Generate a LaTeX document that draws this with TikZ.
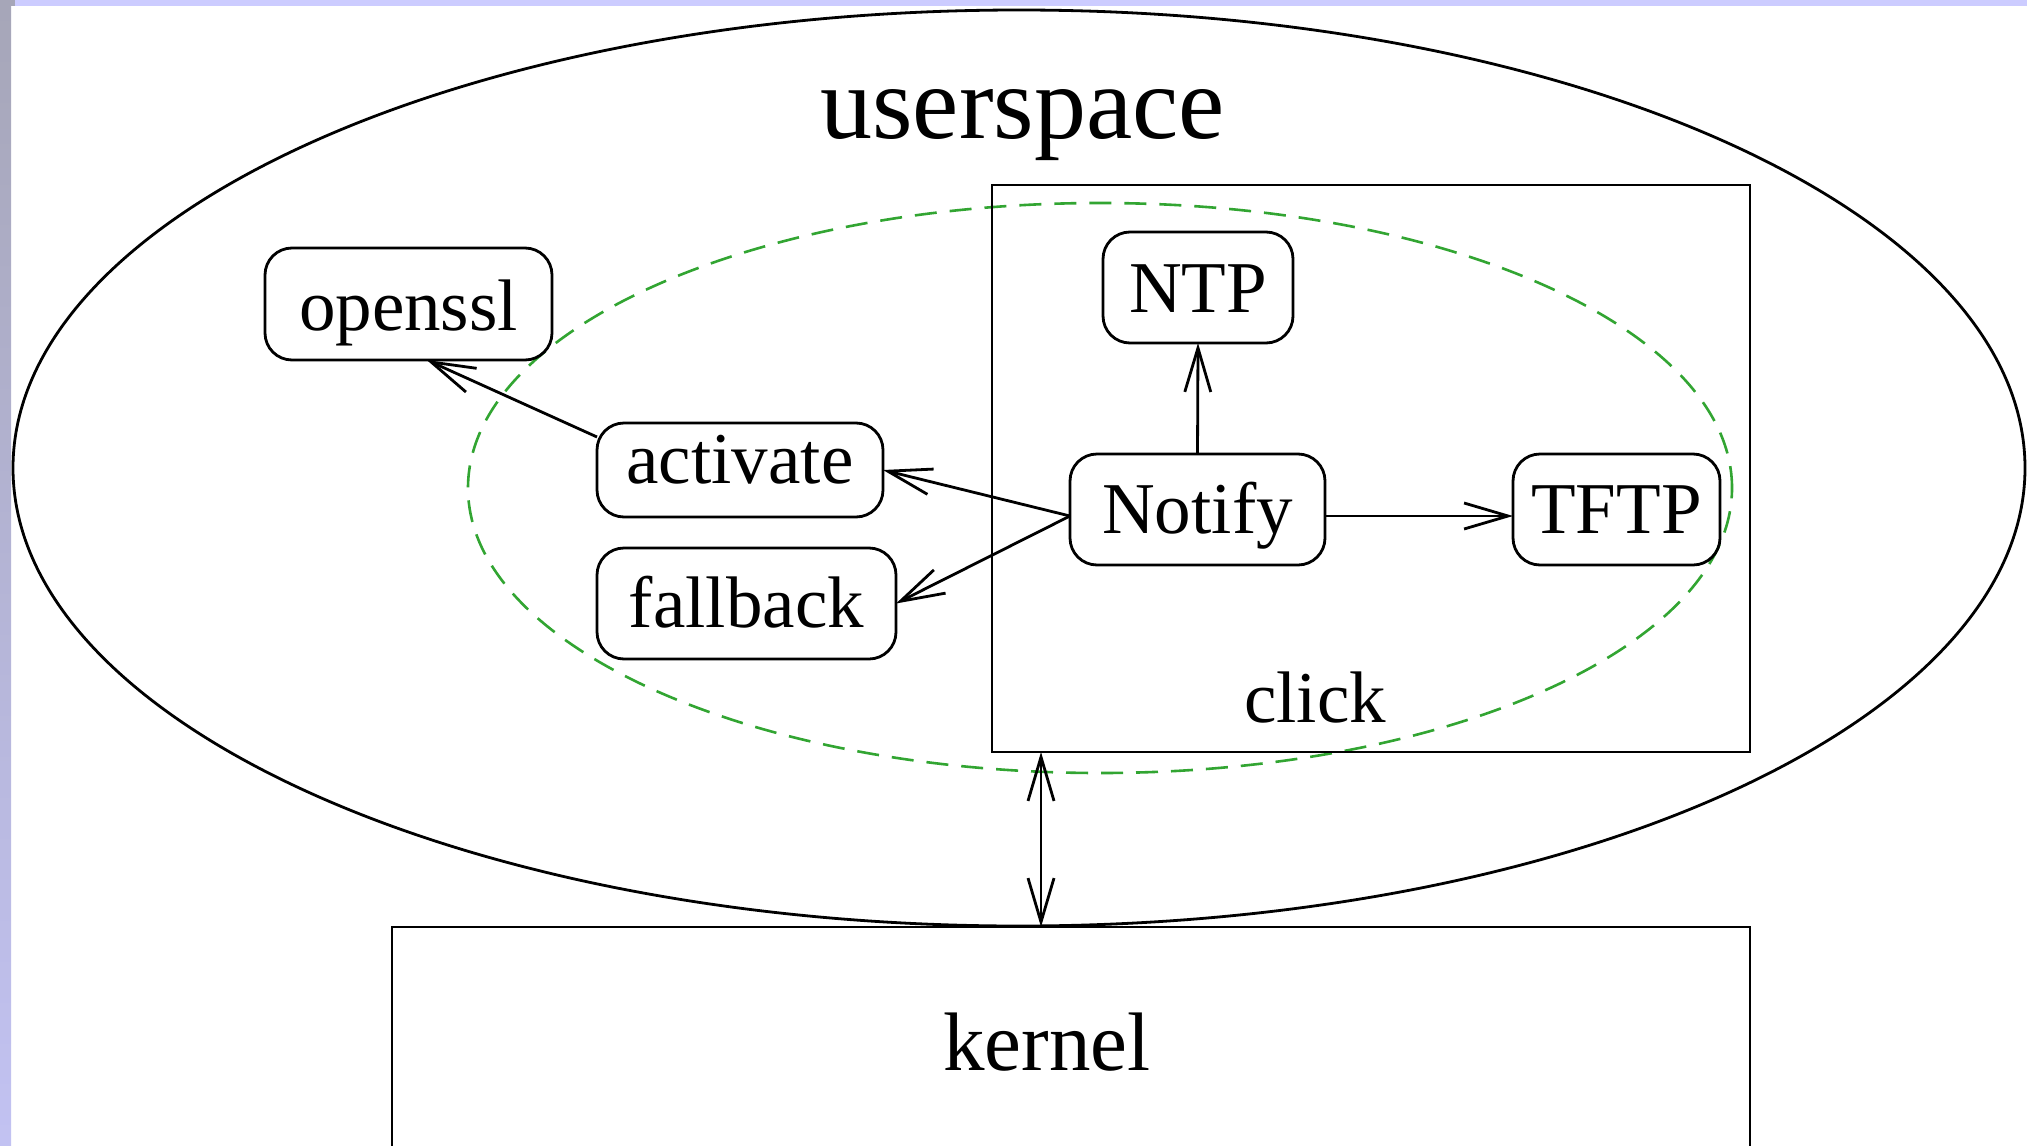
\documentclass[tikz,border=0pt]{standalone}
\usepackage{fontspec}
\setmainfont{Liberation Serif}
\usetikzlibrary{arrows.meta,shapes.geometric}
\definecolor{stripblue}{RGB}{204,204,255}
\definecolor{stripgreytop}{RGB}{166,166,184}
\definecolor{stripgreybot}{RGB}{194,194,242}
\definecolor{dashgreen}{RGB}{50,165,50}
\begin{document}
\begin{tikzpicture}[x=0.5pt,y=-0.5pt,
  line width=1.4pt,
  every node/.style={inner sep=0pt, outer sep=0pt},
  tip/.style={-{Straight Barb[length=22pt,width=13pt]}},
  rbox/.style={draw, rounded corners=13.5pt, font=\fontsize{36.5pt}{40pt}\selectfont, text depth=0pt, minimum height=55.5pt},
  plainbox/.style={draw, rectangle},
  lbl/.style={anchor=base},
]
\useasboundingbox (0,0) rectangle (2027,1145);
\fill[white] (0,0) rectangle (2027,1145);
% frame strips
\shade[top color=stripgreytop, bottom color=stripgreybot, draw=none] (0,0) rectangle (11,1145);
\fill[stripgreytop] (0,0) rectangle (15,6);
\fill[stripblue] (15,0) rectangle (2027,6);

% userspace ellipse
\node[draw, ellipse, minimum width=1006pt, minimum height=458pt] (userspace) at (1019,468) {};
% green dashed ellipse
\node[draw=dashgreen, ellipse, line width=1.3pt, dash pattern=on 11pt off 6.5pt, minimum width=632pt, minimum height=285pt] (green) at (1100,488) {};
% click box
\node[plainbox, minimum width=379pt, minimum height=283.5pt] (click) at (1371,468.5) {};
% kernel box
\node[plainbox, minimum width=679pt, minimum height=150pt] (kernel) at (1071,1077) {};

% labels
\node[lbl, font=\fontsize{52pt}{56pt}\selectfont] (uslabel) at (1022.5,139) {userspace};
\node[lbl, font=\fontsize{36.5pt}{40pt}\selectfont] (clicklabel) at (1315,722) {click};
\node[lbl, font=\fontsize{41.5pt}{45pt}\selectfont] (kernellabel) at (1047,1070) {kernel};

% rounded nodes
\node[rbox, minimum width=143.5pt, minimum height=56pt, text height=26pt] (openssl) at (408.5,304) {openssl};
\node[rbox, minimum width=143pt, minimum height=47pt, text height=13pt] (activate) at (740,470) {activate};
\node[rbox, minimum width=149.5pt, text height=23.5pt] (fallback) at (746.5,603.5) {fallback};
\node[rbox, minimum width=95pt, text height=24.5pt] (NTP) at (1198,287.5) {NTP};
\node[rbox, minimum width=127.5pt, text height=23.5pt] (Notify) at (1197.5,509.5) {Notify};
\node[rbox, minimum width=103.5pt, text height=23.5pt] (TFTP) at (1616.5,509.5) {TFTP};

% connectors
\draw[tip] (activate.167) -- (openssl.-72);
\draw[tip] ([yshift=-3.25pt]Notify.west) -- (activate.east);
\draw[tip] ([yshift=-3.25pt]Notify.west) -- (fallback.east);
\draw[tip] (Notify.north) -- (NTP.south);
\draw[tip] ([yshift=-3.25pt]Notify.east) -- ([yshift=-3.25pt]TFTP.west);
\coordinate (dbl) at (1041,0);
\draw[{Straight Barb[length=22pt,width=13pt]}-{Straight Barb[length=22pt,width=13pt]}] (click.south -| dbl) -- (kernel.north -| dbl);
\end{tikzpicture}
\end{document}
